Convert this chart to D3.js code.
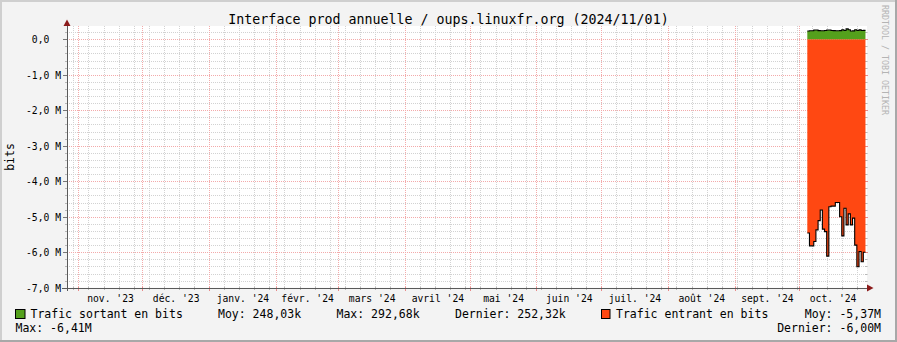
<!DOCTYPE html>
<html><head><meta charset="utf-8">
<script src="https://cdn.jsdelivr.net/npm/d3@7"></script>
<style>
html,body{margin:0;padding:0;background:#f3f3f3;}
svg{display:block;}
text{font-family:"DejaVu Sans Mono",monospace;}
</style>
</head><body>
<svg id="c" width="897" height="342"></svg>
<script>
// ---------- data ----------
const title = "Interface prod annuelle / oups.linuxfr.org (2024/11/01)";
const yAxisTitle = "bits";
const watermark = "RRDTOOL / TOBI OETIKER";
const timeStart = "2023-10-27T01:00:00Z";
const timeEnd = "2024-11-01T00:00:00Z";
const dates = [
  "2024-10-04T18:00:00Z","2024-10-05T18:00:00Z","2024-10-06T18:00:00Z","2024-10-07T18:00:00Z",
  "2024-10-08T18:00:00Z","2024-10-09T18:00:00Z","2024-10-10T18:00:00Z","2024-10-11T18:00:00Z",
  "2024-10-12T18:00:00Z","2024-10-13T18:00:00Z","2024-10-14T18:00:00Z","2024-10-15T18:00:00Z",
  "2024-10-16T18:00:00Z","2024-10-17T18:00:00Z","2024-10-18T18:00:00Z","2024-10-19T18:00:00Z",
  "2024-10-20T18:00:00Z","2024-10-21T18:00:00Z","2024-10-22T18:00:00Z","2024-10-23T18:00:00Z",
  "2024-10-24T18:00:00Z","2024-10-25T18:00:00Z","2024-10-26T18:00:00Z","2024-10-27T18:00:00Z",
  "2024-10-28T18:00:00Z","2024-10-29T18:00:00Z","2024-10-30T18:00:00Z"
];
const dataEnd = "2024-10-31T18:00:00Z";
// Trafic sortant (bits/s, positive)
const sortant = [232e3,241e3,243e3,262e3,262e3,245e3,240e3,240e3,246e3,262e3,262e3,247e3,244e3,240e3,
                 243e3,245e3,268e3,250e3,293e3,270e3,235e3,238e3,268e3,248e3,266e3,249e3,252e3];
// Trafic entrant (bits/s, drawn negative)
const entrant = [-5.46e6,-5.82e6,-5.82e6,-5.70e6,-5.37e6,-5.11e6,-4.81e6,-5.35e6,-5.42e6,-6.11e6,
                 -4.72e6,-4.70e6,-4.70e6,-4.60e6,-4.60e6,-5.00e6,-5.54e6,-4.76e6,-5.23e6,-4.92e6,
                 -5.23e6,-5.04e6,-5.80e6,-6.41e6,-5.98e6,-6.27e6,-6.00e6];
const monthLabels = ["nov. '23","déc. '23","janv. '24","févr. '24","mars '24","avril '24",
                     "mai '24","juin '24","juil. '24","août '24","sept. '24","oct. '24"];
const yTickValues = [0,-1e6,-2e6,-3e6,-4e6,-5e6,-6e6,-7e6];
const yTickLabels = ["0,0\u00a0\u00a0","-1,0 M","-2,0 M","-3,0 M","-4,0 M","-5,0 M","-6,0 M","-7,0 M"];
const seriesNames = ["Trafic sortant en bits","Trafic entrant en bits"];
const statsSortant = ["Moy: 248,03k","Max: 292,68k","Dernier: 252,32k"];
const statsEntrant = ["Moy: -5,37M","Max: -6,41M","Dernier: -6,00M"];
const colors = {sortant:"#54a01c", entrant:"#ff4812"};

// ---------- layout ----------
const W = 897, H = 342;
const L = 67, R = 866, T = 26, B = 287.7;
const svg = d3.select("#c");

// background + shade border
svg.append("rect").attr("width",W).attr("height",H).attr("fill","#f3f3f3");
svg.append("rect").attr("x",0).attr("y",0).attr("width",W).attr("height",2).attr("fill","#cfcfcf");
svg.append("rect").attr("x",0).attr("y",0).attr("width",2).attr("height",H).attr("fill","#cfcfcf");
svg.append("rect").attr("x",0).attr("y",H-2).attr("width",W).attr("height",2).attr("fill","#a8a8a8");
svg.append("rect").attr("x",W-2).attr("y",0).attr("width",2).attr("height",H).attr("fill","#a8a8a8");

const x = d3.scaleUtc().domain([new Date(timeStart), new Date(timeEnd)]).range([L, R]);
const y = d3.scaleLinear().domain([-7e6, 0]).range([B, 39.3]);

// canvas
svg.append("rect").attr("x",L).attr("y",T).attr("width",R-L+1).attr("height",B-T).attr("fill","#fff");

const px = v => Math.round(v) + 0.5;
const grid = svg.append("g").attr("shape-rendering","crispEdges");
const minorCol = "#d2d2d2", majorCol = "#f3aaaa";

// horizontal minor grid (every 0.2M)
const yMinor = d3.range(-35, 2).map(i => i * 2e5).filter(v => v % 1e6 !== 0);
yMinor.forEach(v => {
  const yy = px(y(v));
  grid.append("line").attr("x1",L-2).attr("x2",R+2).attr("y1",yy).attr("y2",yy)
    .attr("stroke",minorCol).attr("stroke-dasharray","1,1");
  grid.append("line").attr("x1",L-2).attr("x2",L+1).attr("y1",yy).attr("y2",yy).attr("stroke","#b8b8b8");
  grid.append("line").attr("x1",R-1).attr("x2",R+1).attr("y1",yy).attr("y2",yy).attr("stroke","#b8b8b8");
});
// vertical minor grid (weekly, Mondays)
const mondays = d3.utcMonday.range(x.domain()[0], x.domain()[1]);
const monthStarts = d3.utcMonth.range(x.domain()[0], x.domain()[1]);
mondays.forEach(d => {
  const xx = px(x(d));
  grid.append("line").attr("x1",xx).attr("x2",xx).attr("y1",T).attr("y2",B+2)
    .attr("stroke",minorCol).attr("stroke-dasharray","1,1");
  grid.append("line").attr("x1",xx).attr("x2",xx).attr("y1",B-1).attr("y2",B+2).attr("stroke","#b8b8b8");
});
// horizontal major grid
yTickValues.forEach(v => {
  const yy = px(y(v));
  grid.append("line").attr("x1",L-2).attr("x2",R+2).attr("y1",yy).attr("y2",yy)
    .attr("stroke",majorCol).attr("stroke-dasharray","1,1");
  grid.append("line").attr("x1",R-1).attr("x2",R+2).attr("y1",yy).attr("y2",yy).attr("stroke","#e88a8a");
});
// vertical major grid (months)
monthStarts.forEach(d => {
  const xx = px(x(d));
  grid.append("line").attr("x1",xx).attr("x2",xx).attr("y1",T).attr("y2",B+2)
    .attr("stroke",majorCol).attr("stroke-dasharray","1,1");
  grid.append("line").attr("x1",xx).attr("x2",xx).attr("y1",B-1).attr("y2",B+3).attr("stroke","#e88a8a");
});

// ---------- series ----------
function pts(vals) {
  const p = dates.map((d, i) => ({t: new Date(d), v: vals[i]}));
  p.push({t: new Date(dataEnd), v: vals[vals.length - 1]});
  return p;
}
const pIn = pts(entrant), pOut = pts(sortant);
const area = d3.area().x(d => x(d.t)).y0(y(0)).y1(d => y(d.v)).curve(d3.curveStepAfter);
const line = d3.line().x(d => x(d.t)).y(d => y(d.v)).curve(d3.curveStepAfter);

svg.append("path").attr("d", area(pIn)).attr("fill", colors.entrant);
svg.append("path").attr("d", area(pOut)).attr("fill", colors.sortant);
svg.append("path").attr("d", line(pIn)).attr("fill","none").attr("stroke","#000").attr("stroke-width",1.1);
svg.append("path").attr("d", line(pOut)).attr("fill","none").attr("stroke","#000").attr("stroke-width",1.1);

// ---------- axes ----------
const axisCol = "#5a5a5a", arrowCol = "#8b1a1a";
const yAxis = d3.axisLeft(y).tickValues(yTickValues).tickSize(4).tickSizeOuter(0)
  .tickFormat((d, i) => yTickLabels[i]);
const gy = svg.append("g").attr("transform", `translate(${L},0)`).call(yAxis);
gy.select(".domain").remove();
gy.selectAll(".tick line").attr("stroke", "#777").attr("shape-rendering","crispEdges");
gy.selectAll(".tick text").attr("font-family","DejaVu Sans Mono").attr("font-size","9.7px")
  .attr("fill","#000").attr("x",-6).attr("dy","0.35em").style("white-space","pre");

const midMonths = monthStarts.map(m => new Date((+m + +d3.utcMonth.offset(m, 1)) / 2));
const xAxis = d3.axisBottom(x).tickValues(midMonths).tickSize(0).tickFormat((d, i) => monthLabels[i]);
const gx = svg.append("g").attr("transform", `translate(0,${B})`).call(xAxis);
gx.select(".domain").remove();
gx.selectAll(".tick text").attr("font-family","DejaVu Sans Mono").attr("font-size","9.7px")
  .attr("fill","#000").attr("y",7);

// axis lines
svg.append("line").attr("x1",px(L)-0.5).attr("x2",px(L)-0.5).attr("y1",22).attr("y2",291)
  .attr("stroke",axisCol).attr("shape-rendering","crispEdges");
svg.append("line").attr("x1",62).attr("x2",870).attr("y1",px(B)-0.5).attr("y2",px(B)-0.5)
  .attr("stroke",axisCol).attr("shape-rendering","crispEdges");
// arrows
const ax = px(L)-0.5, ay = px(B)-0.5;
svg.append("path").attr("d",`M${ax-3.5},${26}L${ax+3.5},${26}L${ax},${19.5}Z`).attr("fill",arrowCol);
svg.append("path").attr("d",`M${867},${ay-3.5}L${867},${ay+3.5}L${873.5},${ay}Z`).attr("fill",arrowCol);

// ---------- texts ----------
svg.append("text").attr("x",448.5).attr("y",24).attr("text-anchor","middle")
  .attr("font-size","13.3px").attr("fill","#000").text(title);
svg.append("text").attr("transform","translate(14,157) rotate(-90)").attr("text-anchor","middle")
  .attr("font-size","11.5px").attr("fill","#000").text(yAxisTitle);
svg.append("text").attr("transform","translate(882,5) rotate(90)").attr("text-anchor","start")
  .attr("font-size","8.3px").attr("fill","#b4b4b4").text(watermark);

// ---------- legend ----------
const lg = svg.append("g").attr("font-size","11.5px").attr("fill","#000");
lg.append("rect").attr("x",15.5).attr("y",309.5).attr("width",9.5).attr("height",9)
  .attr("fill",colors.sortant).attr("stroke","#000");
lg.append("text").attr("x",30.5).attr("y",318).text(seriesNames[0]);
lg.append("text").attr("x",218).attr("y",318).text(statsSortant[0]);
lg.append("text").attr("x",336.5).attr("y",318).text(statsSortant[1]);
lg.append("text").attr("x",455).attr("y",318).text(statsSortant[2]);
lg.append("rect").attr("x",601.5).attr("y",309.5).attr("width",8.5).attr("height",9)
  .attr("fill",colors.entrant).attr("stroke","#000");
lg.append("text").attr("x",616).attr("y",318).text(seriesNames[1]);
lg.append("text").attr("x",881).attr("y",318).attr("text-anchor","end").text(statsEntrant[0]);
lg.append("text").attr("x",15.5).attr("y",332).text(statsEntrant[1]);
lg.append("text").attr("x",881).attr("y",332).attr("text-anchor","end").text(statsEntrant[2]);
</script>
</body></html>
